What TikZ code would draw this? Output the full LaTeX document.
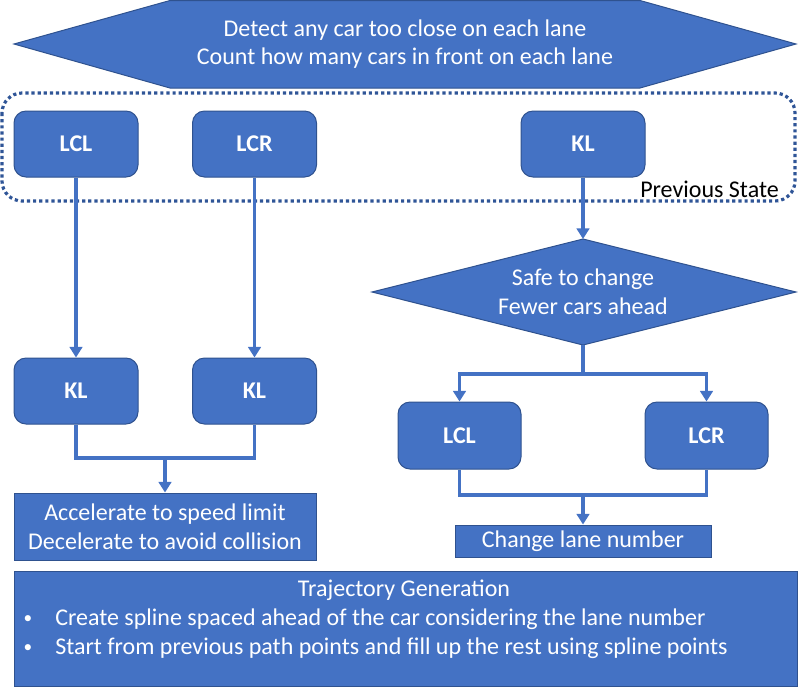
\documentclass[tikz,border=0pt]{standalone}
\usepackage{fontspec}
\setmainfont{Carlito}
\usetikzlibrary{arrows.meta}
\definecolor{fillb}{HTML}{4472C4}
\definecolor{edgeb}{HTML}{2F528F}
\definecolor{dotb}{HTML}{2F5597}
\tikzset{
  shapebox/.style={fill=fillb, draw=edgeb, line width=0.75pt, text=white, font=\fontsize{18}{21.6}\selectfont, align=center, inner sep=0pt},
  rbox/.style={shapebox, rounded corners=9pt, font=\fontsize{18}{21.6}\selectfont\bfseries, minimum width=93pt, minimum height=49.5pt},
  sbox/.style={shapebox},
  conn/.style={draw=fillb, line width=2.9pt},
  arr/.style={conn, -{Triangle[width=9.5pt,length=8pt]}},
  wtext/.style={text=white, font=\fontsize{18}{21.6}\selectfont, inner sep=0pt},
}
\begin{document}
\begin{tikzpicture}[x=0.75pt, y=-0.75pt]
\useasboundingbox (0,0) rectangle (798,687);
% top hexagon
\coordinate (h1) at (14,44);
\coordinate (h2) at (170,0.5);
\coordinate (h3) at (640,0.5);
\coordinate (h4) at (796,44);
\coordinate (h5) at (640,88);
\coordinate (h6) at (170,88);
\filldraw[fill=fillb, draw=edgeb, line width=0.75pt] (h1) -- (h2) -- (h3) -- (h4) -- (h5) -- (h6) -- cycle;
\node[wtext, align=center] (detect) at (405,44) {Detect any car too close on each lane\\Count how many cars in front on each lane};
% previous state dotted frame
\draw[dotb, line width=2.4pt, dash pattern=on 2.4pt off 2.2pt, rounded corners=15pt] (2,93) rectangle (795,201);
\node[anchor=base east, font=\fontsize{18}{21.6}\selectfont, inner sep=0pt] (prev) at (779,197) {Previous State};
% top state boxes
\node[rbox] (lcl0) at (76,144) {LCL};
\node[rbox] (lcr0) at (254.5,144) {LCR};
\node[rbox] (kl0) at (583,144) {KL};
% left column
\node[rbox] (kl1) at (76,391) {KL};
\node[rbox] (kl2) at (254.5,391) {KL};
\node[sbox, minimum width=226.5pt, minimum height=50.25pt] (acc) at (165,526.5) {Accelerate to speed limit\\Decelerate to avoid collision};
% diamond
\coordinate (dt) at (583,239);
\coordinate (dr) at (796,292);
\coordinate (db) at (583,345);
\coordinate (dl) at (372,292);
\filldraw[fill=fillb, draw=edgeb, line width=0.75pt] (dt) -- (dr) -- (db) -- (dl) -- cycle;
\node[wtext, align=center] (safe) at (583,292) {Safe to change\\Fewer cars ahead};
% right column
\node[rbox, minimum width=92.25pt, minimum height=50.25pt] (lcl2) at (459.5,435.5) {LCL};
\node[rbox, minimum width=92.25pt, minimum height=50.25pt] (lcr2) at (706.5,435.5) {LCR};
\node[sbox, minimum width=192pt, minimum height=24pt] (chg) at (583,541) {Change lane number};
% bottom box
\node[sbox, minimum width=587.25pt, minimum height=86.25pt] (traj) at (405.5,628.5) {};
\node[wtext] (trajt) at (404,590) {Trajectory Generation};
\node[wtext, font=\fontsize{13}{15}\selectfont] (b1) at (28,620) {•};
\node[wtext, anchor=west] (t1) at (55,619) {Create spline spaced ahead of the car considering the lane number};
\node[wtext, font=\fontsize{13}{15}\selectfont] (b2) at (28,649) {•};
\node[wtext, anchor=west] (t2) at (55,648) {Start from previous path points and fill up the rest using spline points};
% connectors
\coordinate (mL) at (165,458);
\coordinate (mR) at (583,374);
\coordinate (mR2) at (583,495);
\draw[arr] (lcl0) -- (kl1);
\draw[arr] (lcr0) -- (kl2);
\draw[conn] (kl1.south) |- (mL) -| (kl2.south);
\draw[arr] (mL) -- (acc.north);
\draw[arr] (kl0) -- (dt);
\draw[conn] (db) -- (mR);
\draw[arr] (mR) -| (lcl2.north);
\draw[arr] (mR) -| (lcr2.north);
\draw[conn] (lcl2.south) |- (mR2) -| (lcr2.south);
\draw[arr] (mR2) -- (chg.north);
\end{tikzpicture}
\end{document}
